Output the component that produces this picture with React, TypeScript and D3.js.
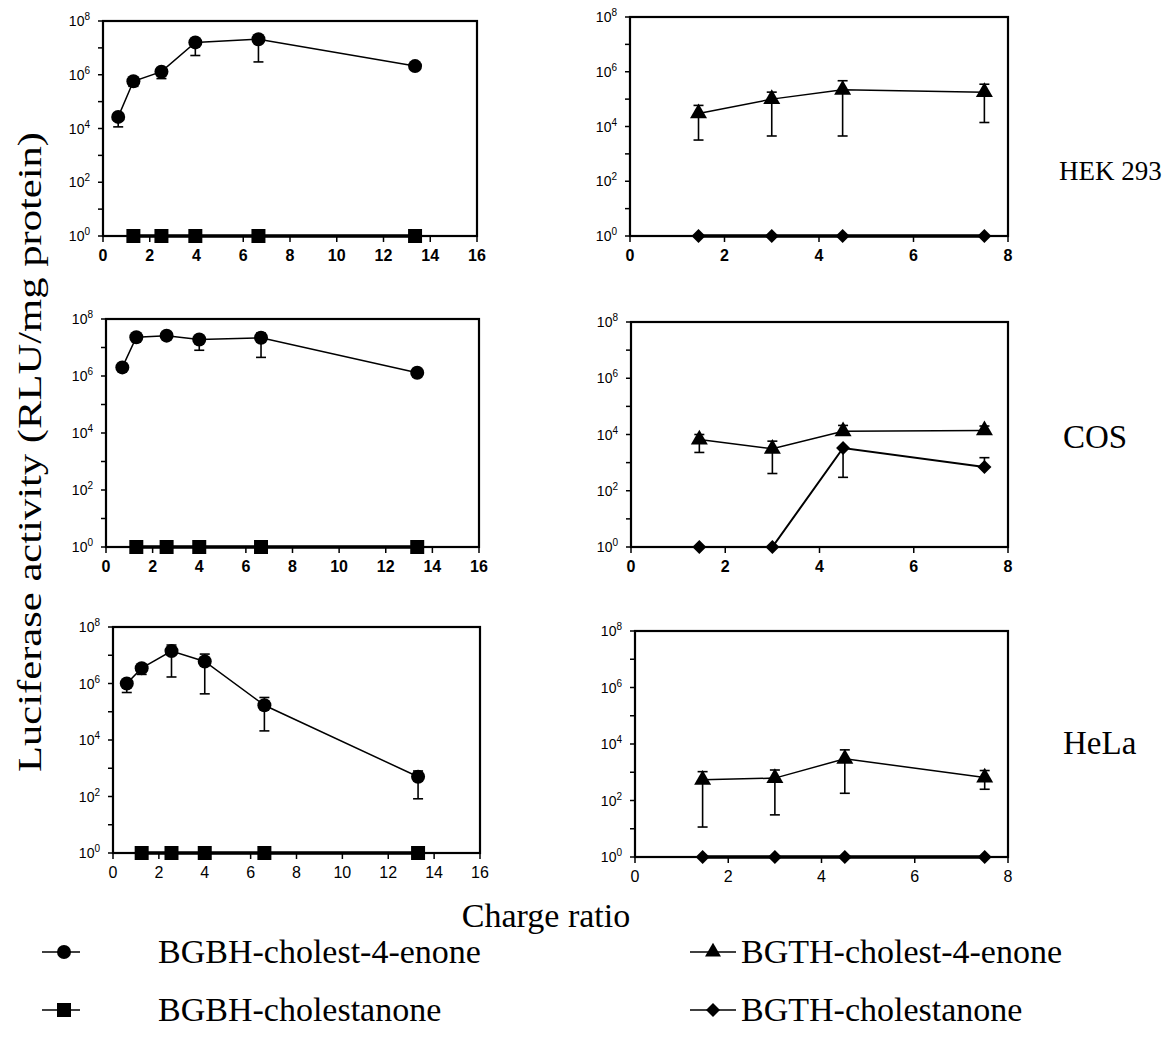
import React from 'react';
import * as d3 from 'd3';

// axis ticks
const bgbhTicks = [0, 2, 4, 6, 8, 10, 12, 14, 16];
const bgthTicks = [0, 2, 4, 6, 8];
const decades = [0, 1, 2, 3, 4, 5, 6, 7, 8];
const cellLines = ['HEK 293', 'COS', 'HeLa'];
const legendNames = ['BGBH-cholest-4-enone', 'BGBH-cholestanone', 'BGTH-cholest-4-enone', 'BGTH-cholestanone'];

// HEK 293
const hekBgbhCharge = [0.65, 1.3, 2.5, 3.95, 6.65, 13.35];
const hekBgbhEnone = [2.7e4, 5.7e5, 1.3e6, 1.6e7, 2.1e7, 2.1e6];
const hekBgbhEnoneLow = [1.15e4, 3.7e5, 7.2e5, 5.2e6, 3.0e6, null];
const hekBgbhEnoneHigh = [null, null, null, null, null, null];
const hekBgbhStanone = [null, 1, 1, 1, 1, 1];
const hekBgthCharge = [1.45, 3, 4.5, 7.5];
const hekBgthEnone = [3e4, 1e5, 2.2e5, 1.8e5];
const hekBgthEnoneLow = [3.2e3, 4.5e3, 4.5e3, 1.4e4];
const hekBgthEnoneHigh = [5.9e4, 1.8e5, 4.7e5, 3.5e5];
const hekBgthStanone = [1, 1, 1, 1];

// COS
const cosBgbhCharge = [0.7, 1.3, 2.6, 4.0, 6.65, 13.35];
const cosBgbhEnone = [2e6, 2.3e7, 2.6e7, 1.9e7, 2.2e7, 1.3e6];
const cosBgbhEnoneLow = [null, null, null, 8e6, 4.5e6, null];
const cosBgbhEnoneHigh = [null, null, null, null, 3.2e7, null];
const cosBgbhStanone = [null, 1, 1, 1, 1, 1];
const cosBgthCharge = [1.45, 3, 4.5, 7.5];
const cosBgthEnone = [6.6e3, 3.1e3, 1.3e4, 1.4e4];
const cosBgthEnoneLow = [2.3e3, 4.1e2, null, null];
const cosBgthEnoneHigh = [1e4, 5.8e3, 2.1e4, 2e4];
const cosBgthStanone = [1, 1, 3.3e3, 7e2];
const cosBgthStanoneLow = [null, null, 3e2, null];
const cosBgthStanoneHigh = [null, null, null, 1.5e3];

// HeLa
const helaBgbhCharge = [0.6, 1.25, 2.55, 4.0, 6.6, 13.3];
const helaBgbhEnone = [1e6, 3.5e6, 1.4e7, 6e6, 1.7e5, 5e2];
const helaBgbhEnoneLow = [4.8e5, 2.1e6, 1.7e6, 4.3e5, 2.1e4, 83];
const helaBgbhEnoneHigh = [null, null, 2.3e7, 1.1e7, 3.2e5, 8e2];
const helaBgbhStanone = [null, 1, 1, 1, 1, 1];
const helaBgthCharge = [1.45, 3, 4.5, 7.5];
const helaBgthEnone = [5.4e2, 6.2e2, 3e3, 6.5e2];
const helaBgthEnoneLow = [11.5, 31, 1.8e2, 2.5e2];
const helaBgthEnoneHigh = [1.05e3, 1.2e3, 6.2e3, 1.15e3];
const helaBgthStanone = [1, 1, 1, 1];

const serif = '"Liberation Serif", "Times New Roman", serif';
const sans = '"Liberation Sans", Arial, sans-serif';

const markerPath = (shape, size) => {
  if (shape === 'circle') return d3.symbol(d3.symbolCircle, size * size * Math.PI / 4)();
  if (shape === 'square') return d3.symbol(d3.symbolSquare, size * size)();
  if (shape === 'triangle') return d3.symbol(d3.symbolTriangle, size * size * Math.sqrt(3) / 4)();
  return d3.symbol(d3.symbolSquare, size * size / 2)();
};

function Marker({ shape, cx, cy, size }) {
  const rot = shape === 'diamond' ? ' rotate(45)' : '';
  return <path d={markerPath(shape, size)} transform={`translate(${cx},${cy})${rot}`} fill="#000" />;
}

function makeSeries(xs, ys, low, high, shape, width) {
  return { xs, ys, low, high, shape, width };
}

function Panel({ box, xMax, xTicks, bold, series }) {
  const [x0, y0, x1, y1] = box;
  const x = d3.scaleLinear().domain([0, xMax]).range([x0, x1]);
  const y = d3.scaleLog().domain([1, 1e8]).range([y1, y0]);
  const line = d3.line().defined(d => d[1] != null).x(d => x(d[0])).y(d => y(d[1]));

  return (
    <g>
      {decades.map(k => (
        <g key={k}>
          <line x1={x0 - 5} x2={x0} y1={y(10 ** k)} y2={y(10 ** k)} stroke="#000" strokeWidth={1.5} />
          {k % 2 === 0 && (
            <text x={x0 - 13} y={y(10 ** k) + 5} textAnchor="end" fontFamily={sans} fontSize={14}>
              10<tspan dy={-6} fontSize={10}>{k}</tspan>
            </text>
          )}
        </g>
      ))}
      {xTicks.map(t => (
        <g key={t}>
          <line x1={x(t)} x2={x(t)} y1={y1} y2={y1 + 6} stroke="#000" strokeWidth={1.5} />
          <text x={x(t)} y={y1 + 25} textAnchor="middle" fontFamily={sans} fontSize={16} fontWeight={bold ? 'bold' : 'normal'}>
            {t}
          </text>
        </g>
      ))}
      <rect x={x0} y={y0} width={x1 - x0} height={y1 - y0} fill="none" stroke="#000" strokeWidth={2.2} />
      {series.map((s, i) => (
        <path key={'l' + i} d={line(s.xs.map((v, j) => [v, s.ys[j]]))} fill="none" stroke="#000" strokeWidth={s.width} />
      ))}
      {series.map((s, i) => s.xs.map((v, j) => {
        const lo = s.low ? s.low[j] : null;
        const hi = s.high ? s.high[j] : null;
        if (s.ys[j] == null || (lo == null && hi == null)) return null;
        const ya = y(hi != null ? hi : s.ys[j]);
        const yb = y(lo != null ? lo : s.ys[j]);
        return (
          <g key={`e${i}-${j}`} stroke="#000" strokeWidth={1.6}>
            <line x1={x(v)} x2={x(v)} y1={ya} y2={yb} />
            {hi != null && <line x1={x(v) - 5} x2={x(v) + 5} y1={ya} y2={ya} />}
            {lo != null && <line x1={x(v) - 5} x2={x(v) + 5} y1={yb} y2={yb} />}
          </g>
        );
      }))}
      {series.map((s, i) => s.xs.map((v, j) => (
        s.ys[j] == null ? null :
          <Marker key={`m${i}-${j}`} shape={s.shape} cx={x(v)} cy={y(s.ys[j])} size={s.shape === 'triangle' ? 17 : 14} />
      )))}
    </g>
  );
}

const leftBoxes = [[103, 21, 477, 236], [106, 319, 479, 547], [113, 627, 480, 853]];
const rightBoxes = [[630, 17, 1008, 236], [631, 322, 1008, 547], [635, 631, 1008, 857]];

export default function App() {
  const leftSeries = [
    [makeSeries(hekBgbhCharge, hekBgbhEnone, hekBgbhEnoneLow, hekBgbhEnoneHigh, 'circle', 1.5),
     makeSeries(hekBgbhCharge, hekBgbhStanone, null, null, 'square', 3.5)],
    [makeSeries(cosBgbhCharge, cosBgbhEnone, cosBgbhEnoneLow, cosBgbhEnoneHigh, 'circle', 1.5),
     makeSeries(cosBgbhCharge, cosBgbhStanone, null, null, 'square', 3.5)],
    [makeSeries(helaBgbhCharge, helaBgbhEnone, helaBgbhEnoneLow, helaBgbhEnoneHigh, 'circle', 1.5),
     makeSeries(helaBgbhCharge, helaBgbhStanone, null, null, 'square', 3.5)],
  ];
  const rightSeries = [
    [makeSeries(hekBgthCharge, hekBgthEnone, hekBgthEnoneLow, hekBgthEnoneHigh, 'triangle', 1.5),
     makeSeries(hekBgthCharge, hekBgthStanone, null, null, 'diamond', 3.5)],
    [makeSeries(cosBgthCharge, cosBgthEnone, cosBgthEnoneLow, cosBgthEnoneHigh, 'triangle', 1.5),
     makeSeries(cosBgthCharge, cosBgthStanone, cosBgthStanoneLow, cosBgthStanoneHigh, 'diamond', 2)],
    [makeSeries(helaBgthCharge, helaBgthEnone, helaBgthEnoneLow, helaBgthEnoneHigh, 'triangle', 1.5),
     makeSeries(helaBgthCharge, helaBgthStanone, null, null, 'diamond', 3.5)],
  ];
  const labelY = [180, 448, 754];
  const legendRows = [952, 1010];
  const legendShapes = ['circle', 'square', 'triangle', 'diamond'];

  return (
    <svg width={1167} height={1051} style={{ position: 'absolute', left: 0, top: 0, background: '#fff' }}>
      {leftBoxes.map((b, i) => (
        <Panel key={'L' + i} box={b} xMax={16} xTicks={bgbhTicks} bold={i < 2} series={leftSeries[i]} />
      ))}
      {rightBoxes.map((b, i) => (
        <Panel key={'R' + i} box={b} xMax={8} xTicks={bgthTicks} bold={i < 2} series={rightSeries[i]} />
      ))}
      {cellLines.map((c, i) => (
        <text key={c} x={i === 0 ? 1059 : 1063} y={labelY[i]} fontFamily={serif} fontSize={i === 0 ? 27 : 33}>{c}</text>
      ))}
      <text transform="translate(41,452) rotate(-90)" textAnchor="middle" fontFamily={serif} fontSize={34}
        textLength={640} lengthAdjust="spacingAndGlyphs">
        Luciferase activity (RLU/mg protein)
      </text>
      <text x={546} y={927} textAnchor="middle" fontFamily={serif} fontSize={34}>Charge ratio</text>
      {legendNames.map((name, i) => {
        const col = i < 2 ? { l0: 42, l1: 80, m: 64, tx: 158 } : { l0: 690, l1: 736, m: 713, tx: 741 };
        const ry = legendRows[i % 2];
        return (
          <g key={name}>
            <line x1={col.l0} x2={col.l1} y1={ry} y2={ry} stroke="#000" strokeWidth={1.5} />
            <Marker shape={legendShapes[i]} cx={col.m} cy={ry} size={legendShapes[i] === 'triangle' ? 16 : 14} />
            <text x={col.tx} y={ry + 11} fontFamily={serif} fontSize={34}>{name}</text>
          </g>
        );
      })}
    </svg>
  );
}
